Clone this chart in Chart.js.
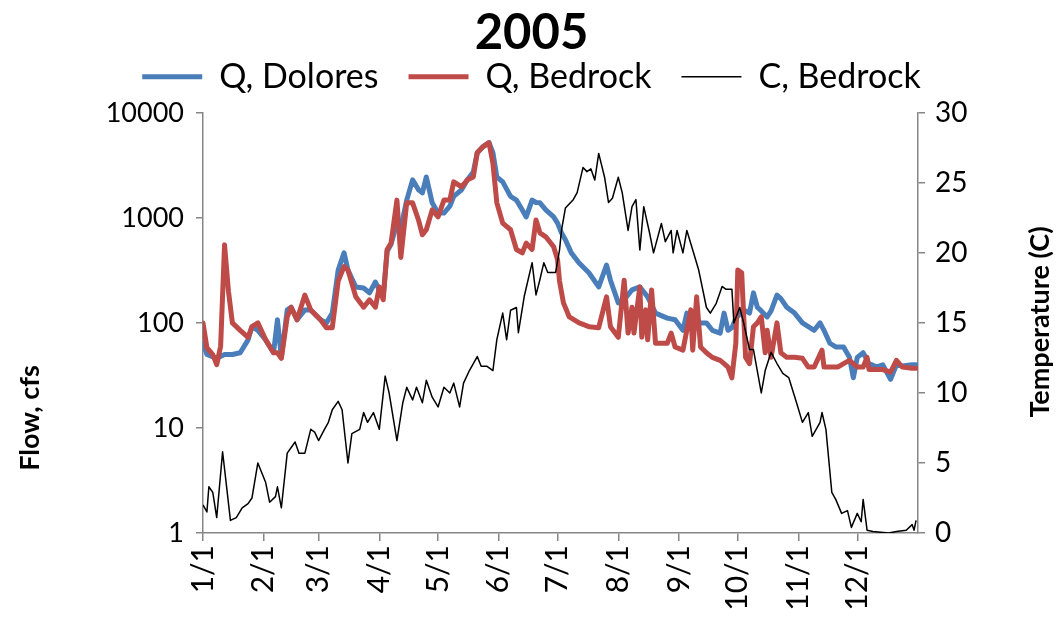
<!DOCTYPE html>
<html><head><meta charset="utf-8">
<script src="https://cdn.jsdelivr.net/npm/chart.js@4.4.0/dist/chart.umd.min.js"></script>
<style>html,body{margin:0;padding:0;background:#fff}#wrap{width:1063px;height:641px;position:relative}</style>
</head><body><div id="wrap"><canvas id="c"></canvas></div>
<script>
const chartTitle = '2005';
const leftAxisTitle = 'Flow, cfs';
const rightAxisTitle = 'Temperature (C)';
const monthDays = [0,31,59,90,120,151,181,212,243,273,304,334];
const monthLabels = ['1/1','2/1','3/1','4/1','5/1','6/1','7/1','8/1','9/1','10/1','11/1','12/1'];
const flowTicks = [1,10,100,1000,10000];
const tempTicks = [0,5,10,15,20,25,30];

const doloresDays = [0,2,7,11,15,19,23,25,28,32,36,38,40,43,45,48,52,55,60,63,66,69,72,74,78,82,85,88,90,92,94,96,99,101,104,107,110,112,114,117,120,123,126,128,132,135,138,140,143,146,148,150,153,157,160,163,165,168,170,172,175,179,181,183,185,188,192,197,202,206,208,212,215,219,223,227,231,237,241,245,247,250,257,260,264,266,268,270,272,276,279,281,283,285,288,290,293,295,298,302,306,309,312,315,317,320,323,327,330,332,334,337,340,344,347,351,354,357,362,364];
const doloresFlow = [64,50,46,50,50,52,69,92,85,69,52,107,47,133,141,107,133,133,107,100,124,319,464,319,220,215,193,245,206,180,480,560,900,800,1475,2300,1850,1730,2450,1390,1110,1110,1290,1600,1850,2300,2740,4170,4770,5200,4170,2450,2200,1600,1475,1190,1020,1475,1400,1390,1190,1020,890,720,620,464,372,300,220,355,255,155,166,206,220,177,124,111,107,85,124,100,100,85,80,124,85,90,110,133,124,193,141,130,114,130,184,170,141,124,100,92,85,100,85,64,59,59,47,30,47,52,41,38,40,29,40,39,40,40];

const bedrockDays = [0,2,5,7,9,11,13,15,19,23,25,28,32,36,38,40,43,45,48,52,55,60,63,66,69,72,74,78,82,85,88,90,92,94,96,99,101,104,107,110,112,114,117,120,123,126,128,132,135,138,140,143,146,148,150,153,157,160,163,165,168,170,172,175,179,181,182,184,187,192,197,202,206,208,212,215,217,219,220,223,224,226,227,229,231,237,239,241,245,249,250,252,254,257,260,264,266,268,270,272,273,275,277,279,281,283,285,287,288,290,293,295,298,302,306,309,312,316,317,320,324,327,330,334,337,339,340,344,347,351,354,357,362,364];
const bedrockFlow = [100,58,50,40,60,553,200,100,85,73,92,100,69,52,52,46,114,141,107,184,133,107,90,90,250,343,319,177,141,166,141,220,166,500,574,1475,420,1390,1390,955,690,770,1190,1020,1475,1475,2200,1970,2300,2450,4170,4770,5200,3300,1390,890,770,500,464,574,500,955,720,660,530,400,250,155,114,100,92,90,177,92,73,255,80,141,80,220,73,133,69,206,64,64,80,59,55,133,55,177,59,52,47,44,41,38,30,64,319,300,47,41,92,100,114,52,85,47,100,52,47,47,46,38,38,55,38,38,38,41,44,38,38,47,36,36,36,34,44,38,37,37];

const tempDays = [0,2,3,5,7,10,14,17,20,23,25,28,32,34,37,38,40,43,47,49,52,55,57,59,62,64,66,69,71,74,76,80,82,84,87,90,93,95,99,102,104,107,109,112,114,117,120,123,126,128,131,133,136,140,142,145,148,150,153,155,157,160,161,164,168,170,172,174,176,180,182,183,185,189,191,194,196,198,200,202,205,207,209,212,214,217,219,221,223,225,228,230,234,236,239,240,242,245,247,250,253,257,259,262,265,267,270,271,274,276,279,281,285,287,290,293,296,299,303,306,309,311,315,316,318,321,323,326,329,331,334,336,337,339,342,350,354,359,362,363,364];
const tempC = [2.0,1.5,3.3,2.9,1.1,5.8,0.9,1.1,1.8,2.1,2.5,5.0,3.6,2.2,2.6,3.3,1.8,5.7,6.5,5.7,5.7,7.4,7.2,6.6,7.4,7.9,8.8,9.4,8.8,5.0,7.1,7.4,8.6,7.9,8.6,7.4,11.2,10.0,6.6,9.3,10.4,9.5,10.4,9.3,10.9,9.7,9.0,10.4,10.0,10.7,9.0,10.7,11.6,12.6,11.9,11.9,11.6,13.8,15.7,13.8,15.9,16.1,14.3,16.9,19.3,17.0,18.1,19.3,18.6,18.6,20.2,21.6,23.2,23.8,24.3,26.1,25.8,26.0,25.2,27.1,25.4,23.6,23.9,25.4,24.3,21.6,23.3,23.8,20.2,23.3,21.4,20.0,22.1,20.8,21.6,20.0,21.6,20.0,21.6,20.2,18.8,16.1,15.7,16.4,17.6,17.4,17.4,15.0,16.1,15.0,13.1,13.1,10.0,11.6,12.9,12.1,11.4,11.1,9.3,7.9,8.6,6.9,7.9,8.6,7.4,2.9,2.4,1.4,1.6,0.4,1.4,0.8,2.4,0.2,0.1,0.0,0.1,0.2,0.6,0.2,0.9];

const zip = (xs, ys) => xs.map((x, i) => ({x: x, y: ys[i]}));
const FONT = 'Lato, "Open Sans", sans-serif';
const AXIS_COLOR = '#868686';

const axisTitlePlugin = {
  id: 'axisTitles',
  beforeInit(chart) {
    const lg = chart.legend;
    if (lg) {
      const orig = lg.fit;
      lg.fit = function() { orig.call(this); this.height += 9; };
    }
  },
  afterDraw(chart) {
    const c = chart.ctx;
    const draw = (text, x, y) => {
      c.save();
      c.fillStyle = '#000';
      c.font = 'bold 27px ' + FONT;
      c.textAlign = 'center';
      c.textBaseline = 'middle';
      c.translate(x, y);
      c.rotate(-Math.PI / 2);
      c.fillText(text, 0, 0);
      c.restore();
    };
    draw(leftAxisTitle, 30, 418);
    draw(rightAxisTitle, 1040, 322);
  }
};

new Chart(document.getElementById('c'), {
  type: 'line',
  data: {
    datasets: [
      {label: 'Q, Dolores', data: zip(doloresDays, doloresFlow), borderColor: '#4a7ebb', backgroundColor: '#4a7ebb', borderWidth: 5, yAxisID: 'y', order: 3, pointRadius: 0, tension: 0, borderJoinStyle: 'round', borderCapStyle: 'round'},
      {label: 'Q, Bedrock', data: zip(bedrockDays, bedrockFlow), borderColor: '#be4b48', backgroundColor: '#be4b48', borderWidth: 5, yAxisID: 'y', order: 2, pointRadius: 0, tension: 0, borderJoinStyle: 'round', borderCapStyle: 'round'},
      {label: 'C, Bedrock', data: zip(tempDays, tempC), borderColor: '#000000', backgroundColor: '#000000', borderWidth: 1.5, yAxisID: 'y2', order: 1, pointRadius: 0, tension: 0, borderJoinStyle: 'round'}
    ]
  },
  options: {
    responsive: true,
    maintainAspectRatio: false,
    animation: false,
    layout: {padding: 0},
    plugins: {
      title: {display: true, text: chartTitle, color: '#000', font: {family: FONT, size: 49, weight: 'bold', lineHeight: 1.2}, padding: {top: 4, bottom: -33}},
      legend: {
        display: true,
        labels: {
          usePointStyle: true,
          pointStyleWidth: 60,
          color: '#000',
          padding: 30,
          font: {family: FONT, size: 34},
          generateLabels: chart => chart.data.datasets.map((d, i) => ({
            text: d.label, strokeStyle: d.borderColor, fillStyle: d.borderColor,
            lineWidth: d.borderWidth, pointStyle: 'line', hidden: false, datasetIndex: i, fontColor: '#000'
          }))
        }
      },
      tooltip: {enabled: false}
    },
    scales: {
      x: {
        type: 'linear', min: 0, max: 365,
        afterBuildTicks: s => { s.ticks = monthDays.map(v => ({value: v})); },
        afterFit: s => { s.height = 108; },
        ticks: {callback: (v, i) => monthLabels[i], minRotation: 90, maxRotation: 90, autoSkip: false, color: '#000', padding: 4, font: {family: FONT, size: 30}},
        grid: {drawOnChartArea: false, drawTicks: true, tickLength: 8, color: AXIS_COLOR, lineWidth: 1.5},
        border: {color: AXIS_COLOR, width: 1.5}
      },
      y: {
        type: 'logarithmic', position: 'left', min: 1, max: 10000,
        afterBuildTicks: s => { s.ticks = flowTicks.map(v => ({value: v})); },
        afterFit: s => { s.width = 203; },
        ticks: {callback: v => String(v), color: '#000', padding: 12, font: {family: FONT, size: 27}},
        grid: {drawOnChartArea: false, drawTicks: true, tickLength: 7, color: AXIS_COLOR, lineWidth: 1.5},
        border: {color: AXIS_COLOR, width: 1.5}
      },
      y2: {
        type: 'linear', position: 'right', min: 0, max: 30,
        afterBuildTicks: s => { s.ticks = tempTicks.map(v => ({value: v})); },
        afterFit: s => { s.width = 145; },
        ticks: {callback: v => String(v), color: '#000', padding: 10, font: {family: FONT, size: 28}},
        grid: {drawOnChartArea: false, drawTicks: true, tickLength: 7, color: AXIS_COLOR, lineWidth: 1.5},
        border: {color: AXIS_COLOR, width: 1.5}
      }
    }
  },
  plugins: [axisTitlePlugin]
});
</script>
</body></html>
